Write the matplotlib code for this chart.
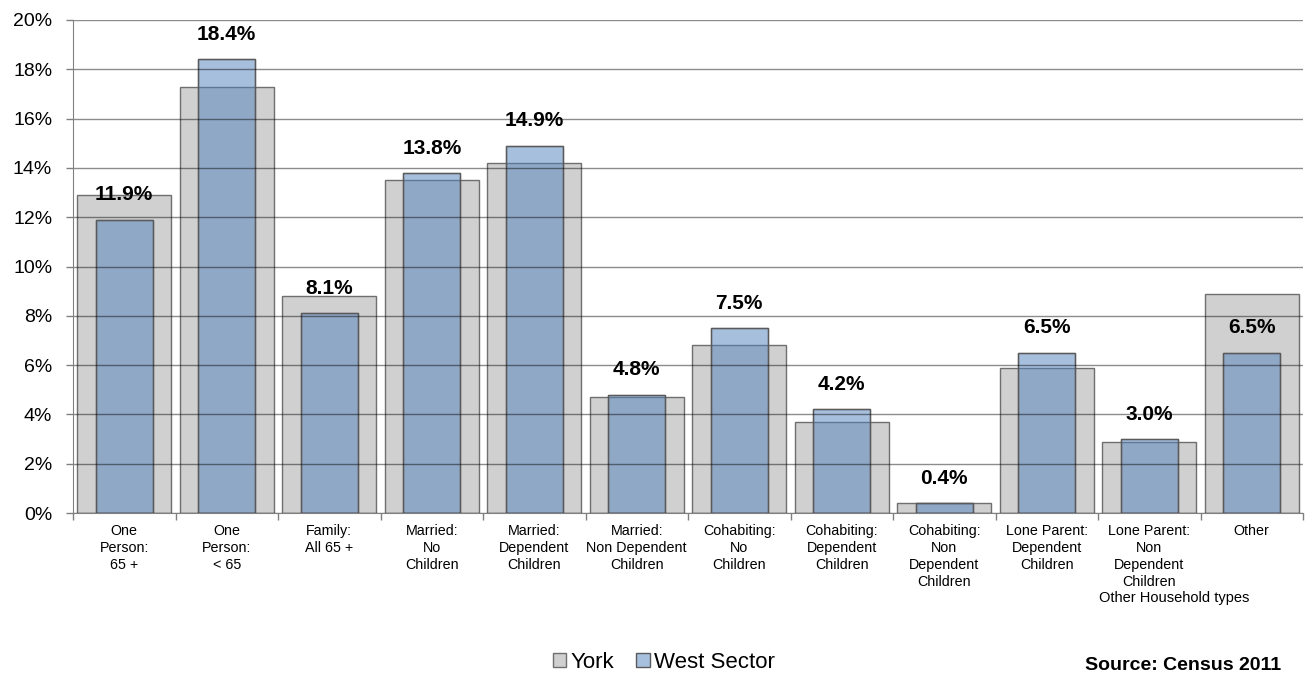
import matplotlib
matplotlib.use("Agg")
import matplotlib.pyplot as plt
import numpy as np
from matplotlib.patches import Patch

plt.rcParams['font.family'] = ['Liberation Sans', 'DejaVu Sans']

categories = ["One\nPerson:\n65 +", "One\nPerson:\n< 65", "Family:\nAll 65 +",
              "Married:\nNo\nChildren", "Married:\nDependent\nChildren",
              "Married:\nNon Dependent\nChildren", "Cohabiting:\nNo\nChildren",
              "Cohabiting:\nDependent\nChildren", "Cohabiting:\nNon\nDependent\nChildren",
              "Lone Parent:\nDependent\nChildren", "Lone Parent:\nNon\nDependent\nChildren",
              "Other"]
york = [12.9, 17.3, 8.8, 13.5, 14.2, 4.7, 6.8, 3.7, 0.4, 5.9, 2.9, 8.9]
west = [11.9, 18.4, 8.1, 13.8, 14.9, 4.8, 7.5, 4.2, 0.4, 6.5, 3.0, 6.5]
yticks = [0, 2, 4, 6, 8, 10, 12, 14, 16, 18, 20]

fig = plt.figure(figsize=(13.08, 6.76), dpi=100)
ax = fig.add_axes([73/1308, 1-513/676, (1303-73)/1308, (513-20)/676])

x = np.arange(len(categories))
ax.bar(x, york, width=0.92, color='#D0D0D0', edgecolor='#6F6F6F', linewidth=1.0,
       zorder=2, label='York')
ax.bar(x, west, width=0.56, color='#4F81BD', alpha=0.5, edgecolor='#404040',
       linewidth=1.0, zorder=3, label='West Sector')
ax.bar(x, west, width=0.56, fill=False, edgecolor='#5A5A5A', linewidth=1.0, zorder=3.5)

for xi, v in zip(x, west):
    ax.annotate(f"{v:.1f}%", (xi, v), xytext=(0, 11), textcoords='offset points',
                ha='center', va='bottom', fontsize=15, fontweight='bold', zorder=6)

ax.set_xlim(-0.5, len(categories) - 0.5)
ax.set_ylim(0, 20)
ax.set_yticks(yticks)
ax.set_yticklabels([f"{t}%" for t in yticks], fontsize=14)
for t in yticks:
    ax.axhline(t, color='black', alpha=0.45, linewidth=1.0, zorder=4)

ax.set_xticks(x)
ax.set_xticklabels(categories, fontsize=10.3, linespacing=1.28, va='top')
ax.tick_params(axis='x', which='major', length=0, pad=8)
ax.set_xticks(np.arange(-0.5, len(categories)), minor=True)
ax.tick_params(axis='x', which='minor', length=5, color='#808080', width=1)
ax.tick_params(axis='y', length=5, color='#808080', width=1, pad=10)

for s in ['top', 'right']:
    ax.spines[s].set_visible(False)
ax.spines['left'].set_color('#808080')
ax.spines['bottom'].set_color('#808080')
ax.spines['left'].set_zorder(5)
ax.spines['bottom'].set_zorder(5)

fig.text(1174/1308, 1-598/676, "Other Household types", ha='center', va='center',
         fontsize=10.5)

handles = [Patch(facecolor='#D0D0D0', edgecolor='#6F6F6F'),
           Patch(facecolor='#A7C0DE', edgecolor='#5A5A5A')]
fig.legend(handles, ['York', 'West Sector'], loc='center', bbox_to_anchor=(664/1308, 1-662/676),
           ncol=2, frameon=False, fontsize=16, handlelength=0.6, handleheight=0.6,
           handletextpad=0.2, columnspacing=1.0)

fig.text(1085/1308, 1.5/676, "Source: Census 2011", ha='left', va='bottom',
         fontsize=14, fontweight='bold')

fig.savefig("out.png", dpi=100)
